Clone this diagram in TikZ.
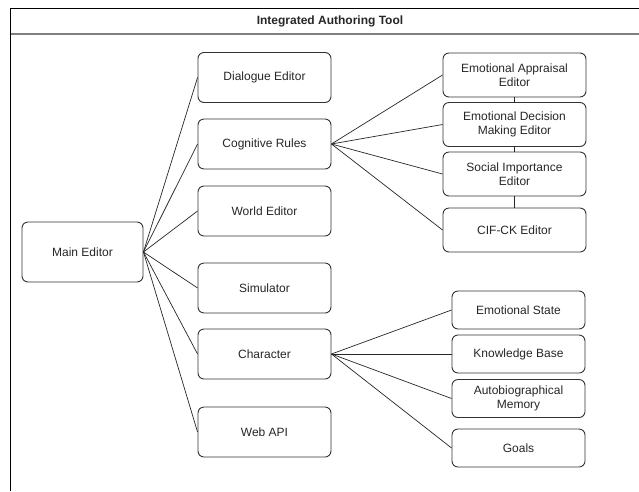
\documentclass[tikz,border=0pt]{standalone}
\usepackage{fontspec}
\setmainfont{Liberation Sans}
\usetikzlibrary{positioning}

\tikzset{
  box/.style={draw=black!80, rounded corners=6pt, line width=0.9pt, align=center,
    inner sep=0pt, text=black!85, font=\fontsize{12}{14}\selectfont},
  mainbox/.style={box, minimum width=121pt, minimum height=60pt},
  editbox/.style={box, minimum width=133pt, minimum height=50pt},
  cogbox/.style={box, minimum width=143pt, minimum height=44pt},
  charbox/.style={box, minimum width=133pt, minimum height=38pt},
  link/.style={draw=black!85, line width=0.7pt},
}

\begin{document}
\begin{tikzpicture}[x=1pt,y=-1pt]
\useasboundingbox (0,0) rectangle (639,491);
% frame and title bar
\draw[line width=1pt] (10.5,491) -- (10.5,8) -- (639,8);
\draw[line width=2pt, black!50] (10.5,33.5) -- (639,33.5);
\node[font=\bfseries\fontsize{12}{14}\selectfont, text=black!85] (title) at (330,21) {Integrated Authoring Tool};

% main editor
\node[mainbox] (main) at (82.5,252) {Main Editor};

% first level
\node[editbox] (dialogue) at (264.5,77.5) {Dialogue Editor};
\node[editbox] (cogrules) at (264.5,144) {Cognitive Rules};
\node[editbox] (world) at (264.5,211) {World Editor};
\node[editbox] (simulator) at (264.5,288) {Simulator};
\node[editbox] (character) at (264.5,354) {Character};
\node[editbox] (webapi) at (264.5,432) {Web API};

% cognitive rules editors
\node[cogbox] (appraisal) at (514.5,75) {Emotional Appraisal\\Editor};
\node[cogbox] (decision) at (514.5,124.5) {Emotional Decision\\Making Editor};
\node[cogbox] (social) at (514.5,174) {Social Importance\\Editor};
\node[cogbox] (cifck) at (514.5,230) {CIF-CK Editor};

% character parts
\node[charbox] (emostate) at (518.5,310) {Emotional State};
\node[charbox] (knowbase) at (518.5,354) {Knowledge Base};
\node[charbox] (autobio) at (518.5,398.5) {Autobiographical\\Memory};
\node[charbox] (goals) at (518.5,448) {Goals};

% connectors
\foreach \n in {dialogue,cogrules,world,simulator,character,webapi}
  \draw[link] (main.east) -- (\n.west);
\foreach \n in {appraisal,decision,social,cifck}
  \draw[link] (cogrules.east) -- (\n.west);
\foreach \n in {emostate,knowbase,autobio,goals}
  \draw[link] (character.east) -- (\n.west);
\draw[link] (appraisal) -- (decision);
\draw[link] (decision) -- (social);
\draw[link] (social) -- (cifck);
\end{tikzpicture}
\end{document}
